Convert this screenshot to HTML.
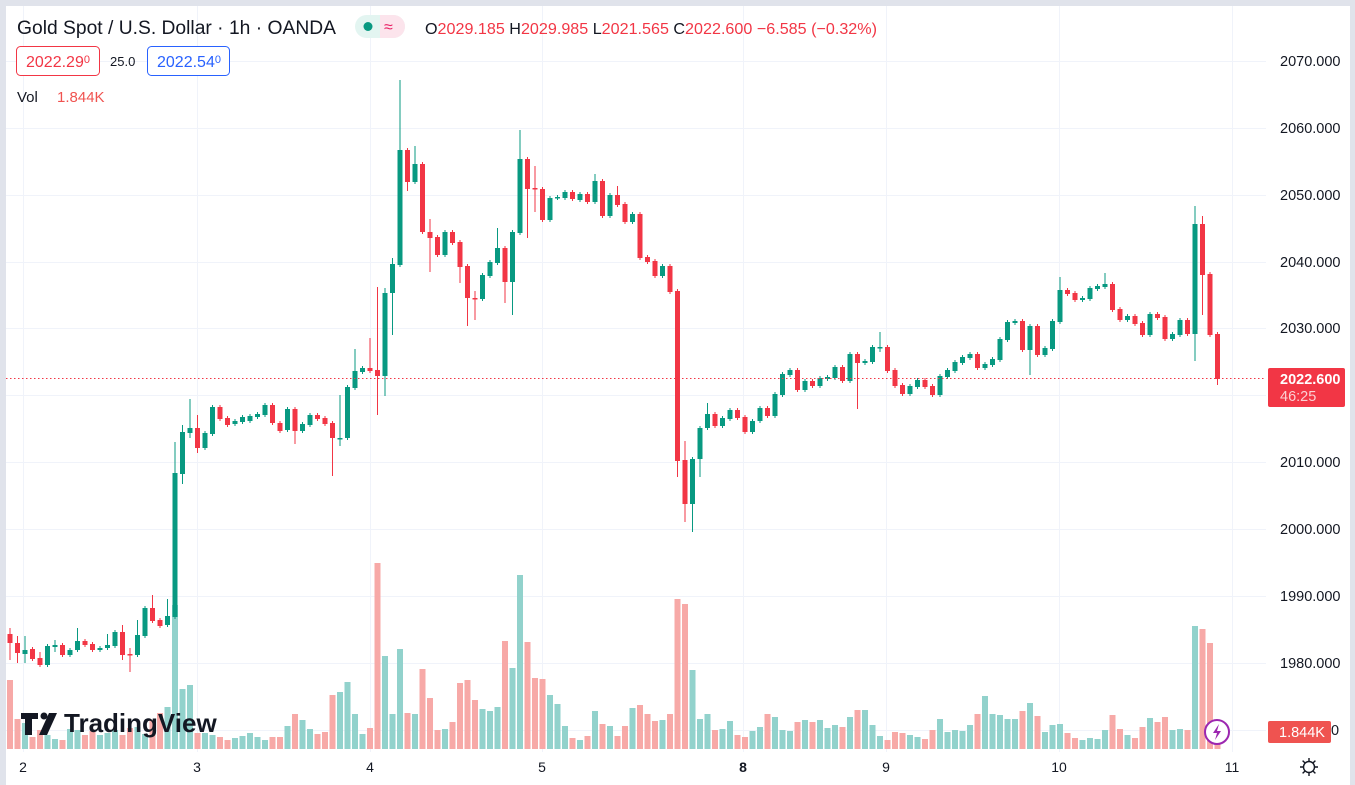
<!DOCTYPE html>
<html><head><meta charset="utf-8">
<style>
html,body{margin:0;padding:0;background:#fff;}
body{width:1355px;height:785px;overflow:hidden;position:relative;font-family:"Liberation Sans",sans-serif;}
svg{position:absolute;left:0;top:0;}
text{font-family:"Liberation Sans",sans-serif;}
</style></head>
<body>
<svg id="c" width="1355" height="785" xmlns="http://www.w3.org/2000/svg">
<rect x="0" y="0" width="1355" height="785" fill="#fff"/>
<g id="grid" stroke="#f0f3fa" stroke-width="1"></g>
<g id="vol"></g>
<g id="cdl"></g>
<line x1="6" y1="378.5" x2="1266" y2="378.5" stroke="#f23645" stroke-width="1" stroke-dasharray="1.5,2.5"/>
<rect x="0" y="0" width="1355" height="6" fill="#e0e3eb"/>
<rect x="0" y="0" width="6" height="785" fill="#e0e3eb"/>
<rect x="1350" y="0" width="5" height="785" fill="#e0e3eb"/>
<text x="17" y="34" font-size="19" fill="#131722" textLength="319" lengthAdjust="spacingAndGlyphs">Gold Spot / U.S. Dollar · 1h · OANDA</text>
<rect x="355" y="15" width="50" height="23" rx="11.5" fill="#e3f5f1"/>
<path d="M380 15 h13.5 a11.5 11.5 0 0 1 0 23 h-13.5z" fill="#fce4ec"/>
<circle cx="368" cy="26.5" r="4.5" fill="#089981"/>
<text x="384" y="32" font-size="16" fill="#e91e63">≈</text>
<text x="425" y="34" font-size="16" fill="#131722" textLength="452" lengthAdjust="spacingAndGlyphs">O<tspan fill="#f23645">2029.185</tspan> H<tspan fill="#f23645">2029.985</tspan> L<tspan fill="#f23645">2021.565</tspan> C<tspan fill="#f23645">2022.600</tspan> <tspan fill="#f23645">−6.585 (−0.32%)</tspan></text>
<rect x="16.5" y="46.5" width="83" height="29" rx="4" fill="#fff" stroke="#f23645"/>
<text x="26" y="67" font-size="16" fill="#f23645">2022.29<tspan font-size="11" dy="-4">0</tspan></text>
<text x="110" y="66" font-size="13" fill="#131722">25.0</text>
<rect x="147.5" y="46.5" width="82" height="29" rx="4" fill="#fff" stroke="#2962ff"/>
<text x="157" y="67" font-size="16" fill="#2962ff">2022.54<tspan font-size="11" dy="-4">0</tspan></text>
<text x="17" y="102" font-size="15" fill="#131722">Vol</text>
<text x="57" y="102" font-size="15" fill="#f05350">1.844K</text>
<g id="axis" font-size="14.5" fill="#131722"></g>
<rect x="1268" y="368" width="77" height="39" rx="2" fill="#f23645"/>
<text x="1280" y="384" font-size="14.5" font-weight="bold" fill="#fff">2022.600</text>
<text x="1280" y="401" font-size="14.5" fill="#fbd0d3">46:25</text>
<rect x="1268" y="721" width="63" height="22" rx="2" fill="#ef5350"/>
<text x="1279" y="737" font-size="14.5" fill="#fff">1.844K</text>
<g font-size="14" fill="#131722" text-anchor="middle">
<text x="23" y="772">2</text><text x="197" y="772">3</text><text x="370" y="772">4</text><text x="542" y="772">5</text>
<text x="743" y="772" font-weight="bold">8</text><text x="886" y="772">9</text><text x="1059" y="772">10</text><text x="1232" y="772">11</text>
</g>
<g transform="translate(1309,767)" stroke="#131722" stroke-width="1.4" fill="none">
<circle r="5.5"/><path d="M0 -9V-6M0 6V9M-9 0H-6M6 0H9M-6.4 -6.4L-4.2 -4.2M4.2 4.2L6.4 6.4M-6.4 6.4L-4.2 4.2M4.2 -4.2L6.4 -6.4"/>
</g>
<g id="logo"></g>
<circle cx="1217" cy="732" r="12" fill="#fff" stroke="#9c27b0" stroke-width="2"/>
<path d="M1219 724l-6 9h4l-2 7 6-9h-4z" fill="#9c27b0"/>
</svg>
<script>
(function(){
var C=[[634,643,628,660],[643,653,636,663],[654,650,636,663],[649,659,0,0],[658,665,652,667],[665,646,0,0],[647,645,640,652],[645,655,0,0],[655,650,0,0],[650,641,628,0],[641,645,0,0],[644,650,0,0],[650,648,0,0],[648,645,634,0],[646,632,0,0],[632,655,625,660],[654,654.5,648,672],[655,635,620,0],[636,608,0,0],[608,621,595,0],[620,626,0,0],[625,616,599,0],
[617,473,442,0],[474,432,425,484],[433,428,399,438],[428,448,415,453],[448,433,0,0],[434,407,0,0],[407,419,0,0],[418,425,0,0],[424,421,0,0],[422,417,0,0],[421,416,0,0],[417,414,0,0],
[415,405,0,0],[405,423,0,0],[423,431,0,0],[430,409,0,0],[409,431,0,444],[431,424,0,0],[425,415,0,0],[415,419,0,0],[418,424,0,0],[423,438,0,476],[438.5,438,395,446],[438,387,0,0],[388,371,349,0],[372,368,0,0],[368,371,338,0],[370,376,287,415],[376,293,288,396],[293,264,258,335],[265,150,80,0],[150,182,0,191],[182,164,146,0],[164,232,0,0],[232,238,219,272],[237,255,0,0],[255,232,0,0],[232,243,0,0],[242,267,0,283],[266,298,0,326],[298,298.5,291,320],[299,275,0,0],[276,262,0,0],[263,248,228,0],[248,282,0,303],
[282,232,0,315],[233,159,130,0],[159,189,0,238],[188,189,166,212],[189,220,0,0],[220,198,0,0],[198,197,0,0],[198,192,0,0],[192,199,0,0],[200,194,0,0],[194,202,0,0],[202,181,174,0],[181,216,0,0],[216,195,0,0],[195,205,186,0],[204,222,0,0],[222,214,0,0],[214,258,0,0],[257,262,0,0],[261,276,0,0],[276,266,0,0],[266,292,0,0],[291,461,0,477],[460,504,441,522],[504,459,0,532],[459,428,0,477],[428,414,403,0],[414,426,0,0],[426,418,0,0],[419,410,0,0],[410,418,0,0],[417,432,0,0],[432,421,0,0],[421,408,0,0],
[408,416,0,0],[416,394,0,0],[395,374,0,0],[375,370,0,0],[370,390,0,0],[390,381,0,0],[381,386,0,0],[386,378,0,0],[379,377,0,0],[378,367,0,0],[367,381,0,0],[381,354,0,0],[354,363,0,409],[363,361,0,0],[362,347,0,0],[347.5,347,332,352],[347,371,0,0],[370,386,0,0],[385,394,0,0],[394,386,0,0],[387,380,0,0],[380,387,0,0],[386,395,0,0],[395,376,0,0],[377,370,0,0],[371,362,0,0],[363,357,0,0],[358,354,0,0],[354,368,0,0],[368,364,0,0],[365,359,0,0],[360,339,0,0],[340,322,0,0],
[323,321,0,0],[321,350,0,0],[350,326,0,375],[326,355,0,0],[355,348,0,0],[349,321,0,0],[322,290,277,0],[290,294,0,0],[293,300,0,0],[300,298,0,0],[299,288,0,0],[289,286,0,0],[287,284,273,0],[284,310,0,0],[309,320,0,0],[320,316,0,0],[316,324,0,0],[323,335,0,0],[335,314,0,0],[314,318,0,0],[317,339,0,0],[339,334,0,0],[335,320,0,0],[320,334,0,0],[334,224,206,361],[224,275,216,315],[274,335,0,0],[334,379,0,385]];
var V=[680,719,723,737,730,735,739,740,729,730,735,731,735,733,730,735,728,727,734,720,713,707,
605,689,685,733,733,735,737,740,738,736,733,737,
740,737,737,726,714,720,729,734,732,695,692,682,714,734,728,563,656,714,649,713,714,669,698,730,729,722,683,680,700,709,711,707,641,
668,575,642,678,679,695,704,726,738,740,736,711,724,726,736,726,708,705,714,721,720,714,599,604,670,719,714,730,729,721,735,737,731,727,
714,717,730,731,722,720,722,720,728,725,727,717,710,710,725,736,740,732,733,735,737,739,730,719,732,730,731,725,714,696,714,715,719,
719,711,703,716,732,725,724,733,738,740,738,739,730,715,729,735,738,727,718,722,717,730,729,730,626,629,643,737];
var NS="http://www.w3.org/2000/svg";
function el(p,t,a){var e=document.createElementNS(NS,t);for(var k in a)e.setAttribute(k,a[k]);p.appendChild(e);return e;}
var g=document.getElementById("grid");
[61,128,195,262,328,395,462,529,596,663,730].forEach(function(y){el(g,"line",{x1:6,x2:1266,y1:y+.5,y2:y+.5});});
[23,197,370,542,743,886,1059,1232].forEach(function(x){el(g,"line",{x1:x+.5,x2:x+.5,y1:6,y2:752});});
var ax=document.getElementById("axis");
var lv=["2070.000","2060.000","2050.000","2040.000","2030.000","2020.000","2010.000","2000.000","1990.000","1980.000"];
[61,128,195,262,328,395,462,529,596,663].forEach(function(y,i){if(i==5)return;var tt=el(ax,"text",{x:1280,y:y+5});tt.textContent=lv[i];});
var t0=el(ax,"text",{x:1331,y:735});t0.textContent="0";
var vg=document.getElementById("vol"),cg=document.getElementById("cdl");
for(var i=0;i<C.length;i++){
 var x=10+i*7.5,c=C[i],up=c[1]<c[0];
 var col=up?"#089981":"#f23645";
 var vt=V[i];el(vg,"rect",{x:x-3,y:vt,width:6,height:749-vt,fill:up?"#92d2cc":"#f7a9a7"});
 var bt=Math.min(c[0],c[1]),bb=Math.max(c[0],c[1]);
 var hh=c[2]||bt-2,ll=c[3]||bb+2;
 el(cg,"rect",{x:x-0.5,y:hh,width:1,height:ll-hh,fill:col});
 el(cg,"rect",{x:x-2.5,y:bt,width:5,height:Math.max(1.5,bb-bt),fill:col});
}
var lg=document.getElementById("logo");
el(lg,"path",{d:"M21 713h17v6h-6v16h-7v-16h-4z",fill:"#131722"});
el(lg,"circle",{cx:44,cy:716,r:3.5,fill:"#131722"});
el(lg,"path",{d:"M49 713h8l-10 22h-8z",fill:"#131722"});
var lt=el(lg,"text",{x:64,y:732,"font-size":26,"font-weight":"bold",fill:"#131722"});lt.textContent="TradingView";
})();
</script>
</body></html>
